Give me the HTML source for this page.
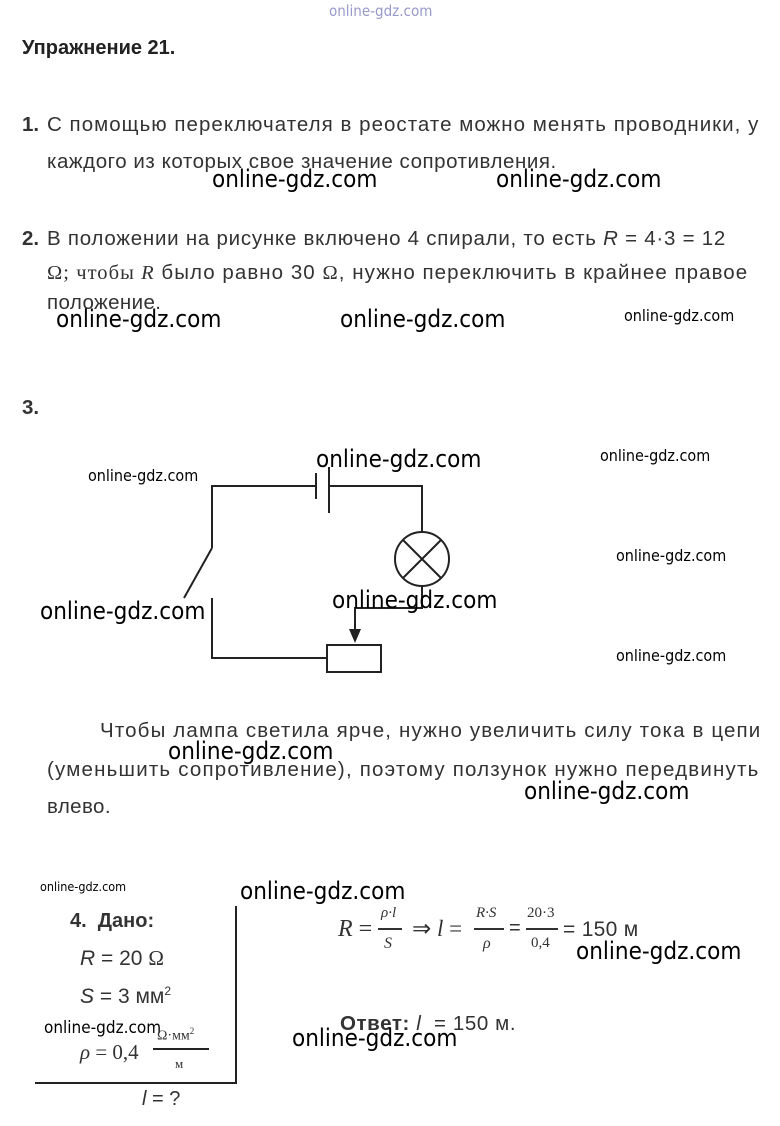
<!DOCTYPE html>
<html><head><meta charset="utf-8"><style>
body{margin:0;background:#fff;}
#p{position:relative;width:780px;height:1126px;overflow:hidden;font-family:"Liberation Sans",sans-serif;color:#333;}
.t{position:absolute;white-space:nowrap;font-size:20.5px;}
.w{position:absolute;white-space:nowrap;color:#000;font-family:"DejaVu Sans Condensed","Liberation Sans",sans-serif;}
.L{font-size:24px;}
.S{font-size:16px;}
.s{font-family:"Liberation Serif",serif;}
</style></head><body><div id="p">
<div class="w" style="left:329px;top:2px;font-size:15px;color:#99c;">online-gdz.com</div>
<div class="t" style="left:22px;top:37px;font-weight:bold;color:#222;font-size:20px;">Упражнение 21.</div>

<div class="t" style="left:22px;top:113px;"><b>1.</b></div>
<div class="t" style="left:47px;top:113px;letter-spacing:1.03px;">С помощью переключателя в реостате можно менять проводники, у</div>
<div class="t" style="left:47px;top:150px;letter-spacing:0.55px;">каждого из которых свое значение сопротивления.</div>
<div class="w L" style="left:212px;top:165px;">online-gdz.com</div>
<div class="w L" style="left:496px;top:165px;">online-gdz.com</div>

<div class="t" style="left:22px;top:227px;"><b>2.</b></div>
<div class="t" style="left:47px;top:227px;letter-spacing:0.75px;">В положении на рисунке включено 4 спирали, то есть <i>R</i> = 4·3 = 12</div>
<div class="t" style="left:47px;top:261px;letter-spacing:1.05px;"><span class="s">Ω; чтобы <i>R</i></span> было равно 30 <span class="s">Ω</span>, нужно переключить в крайнее правое</div>
<div class="t" style="left:47px;top:291px;letter-spacing:0.4px;">положение.</div>
<div class="w L" style="left:56px;top:305px;">online-gdz.com</div>
<div class="w L" style="left:340px;top:305px;">online-gdz.com</div>
<div class="w S" style="left:624px;top:306px;">online-gdz.com</div>

<div class="t" style="left:22px;top:396px;"><b>3.</b></div>
<svg style="position:absolute;left:0;top:0" width="780" height="1126">
<g stroke="#222" stroke-width="2" fill="none">
<path d="M212 548 V486 H316 M329 486 H422 V531"/>
<path d="M316 473 V499" /><path d="M329 467 V513"/>
<path d="M212 548 L184 598"/>
<path d="M212 598 V658 H327"/>
<rect x="327" y="645" width="54" height="27"/>
<circle cx="422" cy="559" r="27"/>
<path d="M403 540 L441 578 M441 540 L403 578"/>
<path d="M422 586 V608 H355 V630"/>
</g>
<path d="M349 629 L361 629 L355 643 Z" fill="#222"/>
</svg>
<div class="w S" style="left:88px;top:466px;">online-gdz.com</div>
<div class="w L" style="left:316px;top:445px;">online-gdz.com</div>
<div class="w S" style="left:600px;top:446px;">online-gdz.com</div>
<div class="w S" style="left:616px;top:546px;">online-gdz.com</div>
<div class="w L" style="left:40px;top:597px;">online-gdz.com</div>
<div class="w L" style="left:332px;top:586px;">online-gdz.com</div>
<div class="w S" style="left:616px;top:646px;">online-gdz.com</div>

<div class="t" style="left:100px;top:719px;letter-spacing:1.15px;">Чтобы лампа светила ярче, нужно увеличить силу тока в цепи</div>
<div class="t" style="left:47px;top:758px;letter-spacing:1.2px;">(уменьшить сопротивление), поэтому ползунок нужно передвинуть</div>
<div class="t" style="left:47px;top:795px;letter-spacing:0.4px;">влево.</div>
<div class="w L" style="left:168px;top:737px;">online-gdz.com</div>
<div class="w L" style="left:524px;top:777px;">online-gdz.com</div>

<div class="w" style="left:40px;top:879px;font-size:12.5px;">online-gdz.com</div>
<div class="w L" style="left:240px;top:877px;">online-gdz.com</div>
<div class="t" style="left:70px;top:910px;font-weight:bold;font-size:20px;">4.&nbsp; Дано:</div>
<div style="position:absolute;left:235px;top:906px;width:2px;height:178px;background:#222"></div>
<div style="position:absolute;left:35px;top:1082px;width:202px;height:2px;background:#222"></div>
<div class="t" style="left:80px;top:946px;font-size:21px;"><i>R</i> = 20 <span class="s">Ω</span></div>
<div class="t" style="left:80px;top:984px;font-size:21px;"><i>S</i> = 3 мм<sup style="font-size:12px">2</sup></div>
<div class="w" style="left:44px;top:1018px;font-size:17px;">online-gdz.com</div>
<div class="t s" style="left:80px;top:1040px;font-size:21px;"><i>ρ</i> = 0,4</div>
<div class="t s" style="left:157px;top:1026px;font-size:14px;">Ω·мм<sup style="font-size:9px">2</sup></div>
<div style="position:absolute;left:153px;top:1048px;width:56px;height:2px;background:#222"></div>
<div class="t s" style="left:175px;top:1056px;font-size:13px;">м</div>
<div class="t" style="left:142px;top:1088px;font-size:20px;"><i>l</i> = ?</div>

<div class="t s" style="left:338px;top:916px;font-size:24px;"><i>R</i> =</div>
<div class="t s" style="left:381px;top:905px;font-size:15px;"><i>ρ·l</i></div>
<div style="position:absolute;left:378px;top:928px;width:24px;height:1.5px;background:#333"></div>
<div class="t s" style="left:384px;top:935px;font-size:16px;"><i>S</i></div>
<div class="t s" style="left:412px;top:916px;font-size:23px;">⇒ <i>l</i> =</div>
<div class="t s" style="left:476px;top:905px;font-size:15px;"><i>R·S</i></div>
<div style="position:absolute;left:474px;top:928px;width:30px;height:1.5px;background:#333"></div>
<div class="t s" style="left:483px;top:935px;font-size:16px;"><i>ρ</i></div>
<div class="t" style="left:509px;top:917px;font-size:20px;">=</div>
<div class="t s" style="left:527px;top:905px;font-size:15px;">20·3</div>
<div style="position:absolute;left:526px;top:928px;width:32px;height:1.5px;background:#333"></div>
<div class="t s" style="left:531px;top:935px;font-size:15px;">0,4</div>
<div class="t" style="left:563px;top:918px;font-size:21px;letter-spacing:0.3px;">= 150 м</div>
<div class="w L" style="left:576px;top:937px;">online-gdz.com</div>

<div class="t" style="left:340px;top:1012px;font-size:20.5px;letter-spacing:0.6px;"><b>Ответ:</b> <i>l</i> &nbsp;= 150 м.</div>
<div class="w L" style="left:292px;top:1024px;">online-gdz.com</div>
</div></body></html>
